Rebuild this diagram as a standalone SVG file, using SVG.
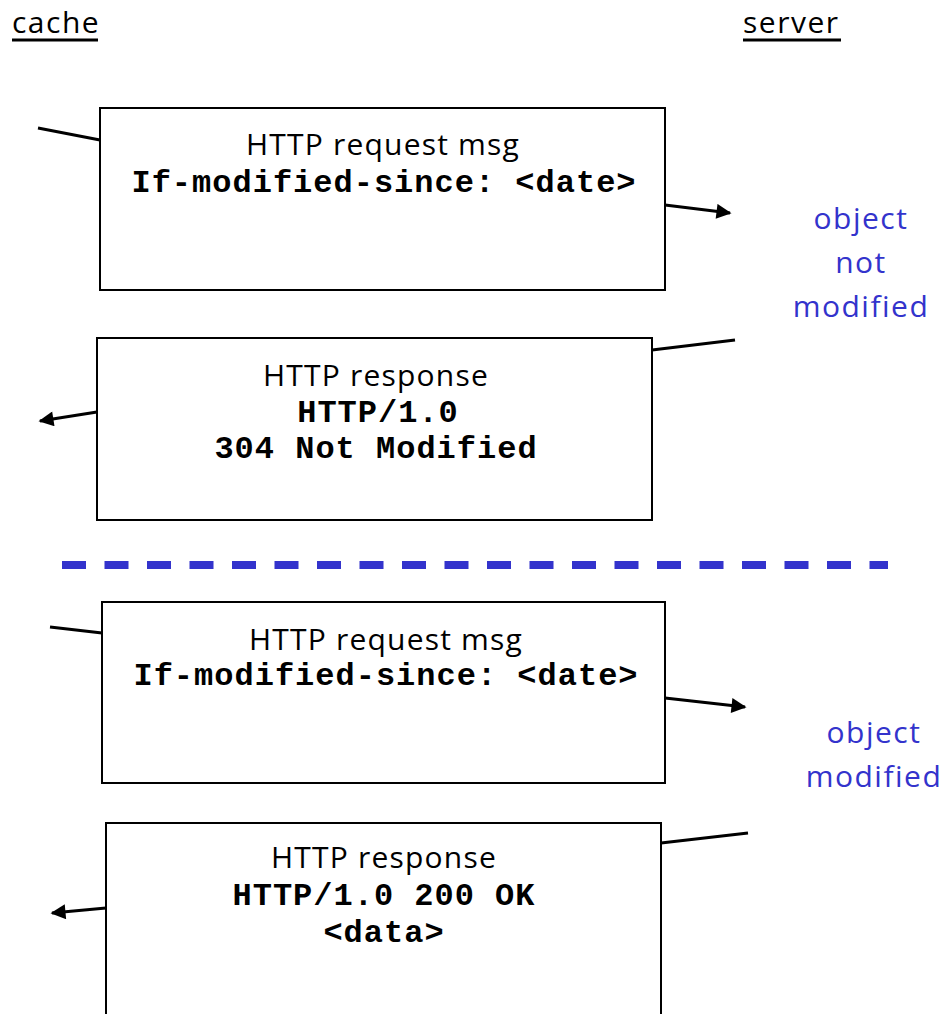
<svg xmlns="http://www.w3.org/2000/svg" width="952" height="1014" viewBox="0 0 952 1014">
<defs>
<marker id="arr" viewBox="0 0 10 10" refX="9" refY="5" markerWidth="5.5" markerHeight="5" orient="auto" markerUnits="strokeWidth">
<path d="M0,0 L10,5 L0,10 z" fill="#000"/>
</marker>
<style>
.box{fill:#fff;stroke:#000;stroke-width:2}
.hand{font-family:"Comic Sans MS","Open Sans","Noto Sans",sans-serif;font-size:30px;letter-spacing:1.2px;fill:#000;text-anchor:middle}
.mono{font-family:"Liberation Mono","Courier New",monospace;font-size:32px;letter-spacing:1px;font-weight:bold;fill:#000;text-anchor:middle}
.blue{font-family:"Comic Sans MS","Open Sans","Noto Sans",sans-serif;font-size:30px;letter-spacing:1.5px;fill:#3333cc;text-anchor:middle}
.head{font-family:"Comic Sans MS","Open Sans","Noto Sans",sans-serif;font-size:30px;letter-spacing:1.5px;fill:#000}
.conn{stroke:#000;stroke-width:3;fill:none}
</style>
</defs>
<rect width="952" height="1014" fill="#fff"/>
<g id="labels">
<text class="head" x="12" y="33">cache</text>
<line x1="12" y1="40" x2="98" y2="40" stroke="#000" stroke-width="3"/>
<text class="head" x="743" y="33">server</text>
<line x1="743" y1="40" x2="841" y2="40" stroke="#000" stroke-width="3"/>
<text class="blue" x="861" y="229">object</text>
<text class="blue" x="861" y="273">not</text>
<text class="blue" x="861" y="317">modified</text>
<text class="blue" x="874" y="743">object</text>
<text class="blue" x="874" y="787">modified</text>
</g>
<g id="connectors">
<line class="conn" x1="38" y1="128" x2="100" y2="140"/>
<line class="conn" x1="665" y1="205" x2="730" y2="213" marker-end="url(#arr)"/>
<line class="conn" x1="652" y1="350" x2="735" y2="340"/>
<line class="conn" x1="97" y1="412" x2="40" y2="421" marker-end="url(#arr)"/>
<line x1="62" y1="565" x2="888" y2="565" stroke="#3333cc" stroke-width="8" stroke-dasharray="24 18.5"/>
<line class="conn" x1="50" y1="627" x2="102" y2="633"/>
<line class="conn" x1="665" y1="698" x2="745" y2="707" marker-end="url(#arr)"/>
<line class="conn" x1="661" y1="843" x2="748" y2="833"/>
<line class="conn" x1="106" y1="908" x2="52" y2="913" marker-end="url(#arr)"/>
</g>
<g id="req1">
<rect class="box" x="100" y="108" width="565" height="182"/>
<text class="hand" x="383" y="155">HTTP request msg</text>
<text class="mono" x="384" y="192">If-modified-since: &lt;date&gt;</text>
</g>
<g id="resp1">
<rect class="box" x="97" y="338" width="555" height="182"/>
<text class="hand" x="376" y="386">HTTP response</text>
<text class="mono" x="378" y="422">HTTP/1.0</text>
<text class="mono" x="376" y="458">304 Not Modified</text>
</g>
<g id="req2">
<rect class="box" x="102" y="602" width="563" height="181"/>
<text class="hand" x="386" y="650">HTTP request msg</text>
<text class="mono" x="386" y="685">If-modified-since: &lt;date&gt;</text>
</g>
<g id="resp2">
<rect class="box" x="106" y="823" width="555" height="200"/>
<text class="hand" x="384" y="868">HTTP response</text>
<text class="mono" x="384" y="905">HTTP/1.0 200 OK</text>
<text class="mono" x="384" y="942">&lt;data&gt;</text>
</g>
</svg>
